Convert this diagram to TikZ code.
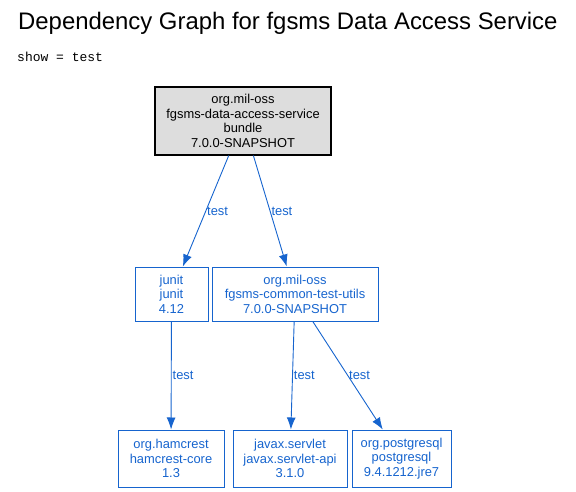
\documentclass[tikz,border=0pt]{standalone}
\usepackage{fontspec}
\setmainfont{Liberation Sans}
\setmonofont{Liberation Mono}
\usetikzlibrary{arrows.meta}
\definecolor{depblue}{RGB}{22,100,206}
\definecolor{rootgray}{RGB}{221,221,221}

\begin{document}
\begin{tikzpicture}
                [x=1pt, y=-1pt,
                 every node/.style={font=\fontsize{12.9}{14.5}\selectfont, align=center, inner sep=0pt},
                 artifact/.style={rectangle, draw=depblue, text=depblue, line width=1pt},
                 rootartifact/.style={rectangle, draw=black, fill=rootgray, line width=1.1pt},
                 dep/.style={draw=depblue, line width=0.9pt, -{Latex[length=12pt,width=9pt]}},
                 scopelabel/.style={text=depblue, right, inner sep=1pt}]
                \useasboundingbox (0,0) rectangle (576,492);
                \node (title) [anchor=base west, font=\fontsize{23.9}{28}\selectfont] at (18,30) {Dependency Graph for fgsms Data Access Service};
                \node (filter) [anchor=base west, font=\ttfamily\fontsize{13}{15}\selectfont] at (17,62) {show = test};
                \node (root) [rootartifact, minimum width=176pt, minimum height=68pt] at (243,121)
                    {org.mil-oss\\fgsms-data-access-service\\bundle\\7.0.0-SNAPSHOT};
                \node (junit) [artifact, minimum width=73pt, minimum height=54pt] at (171.5,294) {junit\\junit\\4.12};
                \node (utils) [artifact, minimum width=166pt, minimum height=54pt] at (295,294)
                    {org.mil-oss\\fgsms-common-test-utils\\7.0.0-SNAPSHOT};
                \node (hamcrest) [artifact, minimum width=106pt, minimum height=57pt] at (171,458.5)
                    {org.hamcrest\\hamcrest-core\\1.3};
                \node (servlet) [artifact, minimum width=114pt, minimum height=57pt] at (290,458.5)
                    {javax.servlet\\javax.servlet-api\\3.1.0};
                \node (postgres) [artifact, minimum width=99pt, minimum height=57pt] at (401.5,458.5)
                    {org.postgresql\\postgresql\\9.4.1212.jre7};
                \draw[dep] (root) -- node[scopelabel] {test} (junit);
                \draw[dep] (root) -- node[scopelabel] {test} (utils);
                \draw[dep] (junit) -- node[scopelabel] {test} (hamcrest);
                \draw[dep] (utils) -- node[scopelabel] {test} (servlet);
                \draw[dep] (utils) -- node[scopelabel] {test} (postgres);
            \end{tikzpicture}
\end{document}
